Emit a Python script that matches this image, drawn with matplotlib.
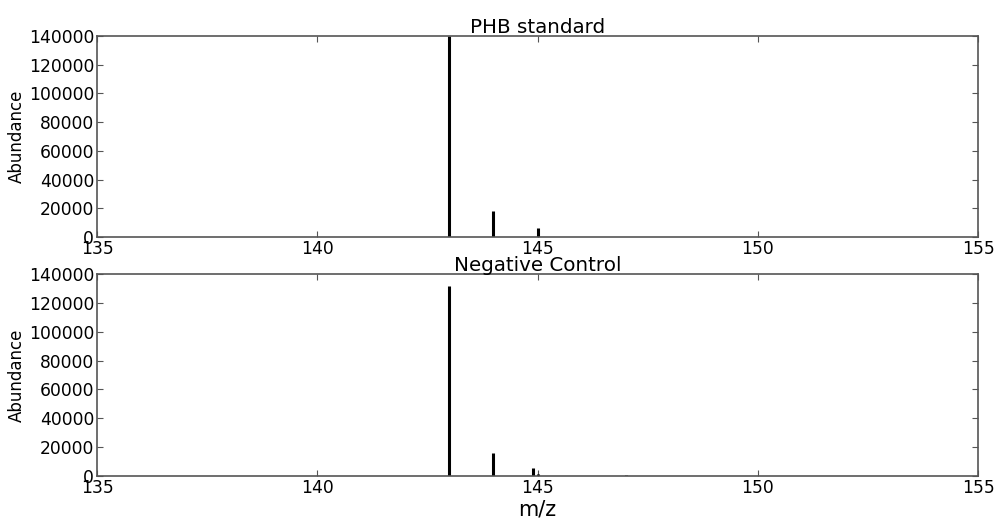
import matplotlib
matplotlib.use("Agg")
import matplotlib.pyplot as plt

mz_phb = [143.0, 144.0, 145.0]
ab_phb = [140000, 18000, 6300]
mz_neg = [143.0, 144.0, 144.9, 145.0, 147.0]
ab_neg = [132000, 16000, 5500, 1500, 800]

xticks = [135, 140, 145, 150, 155]
yticks = [0, 20000, 40000, 60000, 80000, 100000, 120000, 140000]

fig = plt.figure(figsize=(9.96, 5.25), dpi=100)
panels = [
    ("PHB standard", mz_phb, ab_phb, [0.0974, 0.5486, 0.8846, 0.3828]),
    ("Negative Control", mz_neg, ab_neg, [0.0974, 0.0933, 0.8846, 0.3847]),
]
for title, mz, ab, pos in panels:
    ax = fig.add_axes(pos)
    ax.vlines(mz, 0, ab, colors="black", linewidth=2.2)
    ax.set_xlim(135, 155)
    ax.set_ylim(0, 140000)
    ax.set_xticks(xticks)
    ax.set_yticks(yticks)
    ax.tick_params(direction="in", length=4, labelsize=12.3, pad=2, color="#555555")
    ax.tick_params(top=True, right=True)
    for s in ax.spines.values():
        s.set_color("#555555")
        s.set_linewidth(1.2)
    ax.set_ylabel("Abundance", fontsize=12)
    ax.yaxis.set_label_coords(-0.081, 0.5)
    ax.set_title(title, fontsize=14.3, pad=2)
ax.set_xlabel("m/z", fontsize=15, labelpad=2)
fig.savefig("out.png", dpi=100)
